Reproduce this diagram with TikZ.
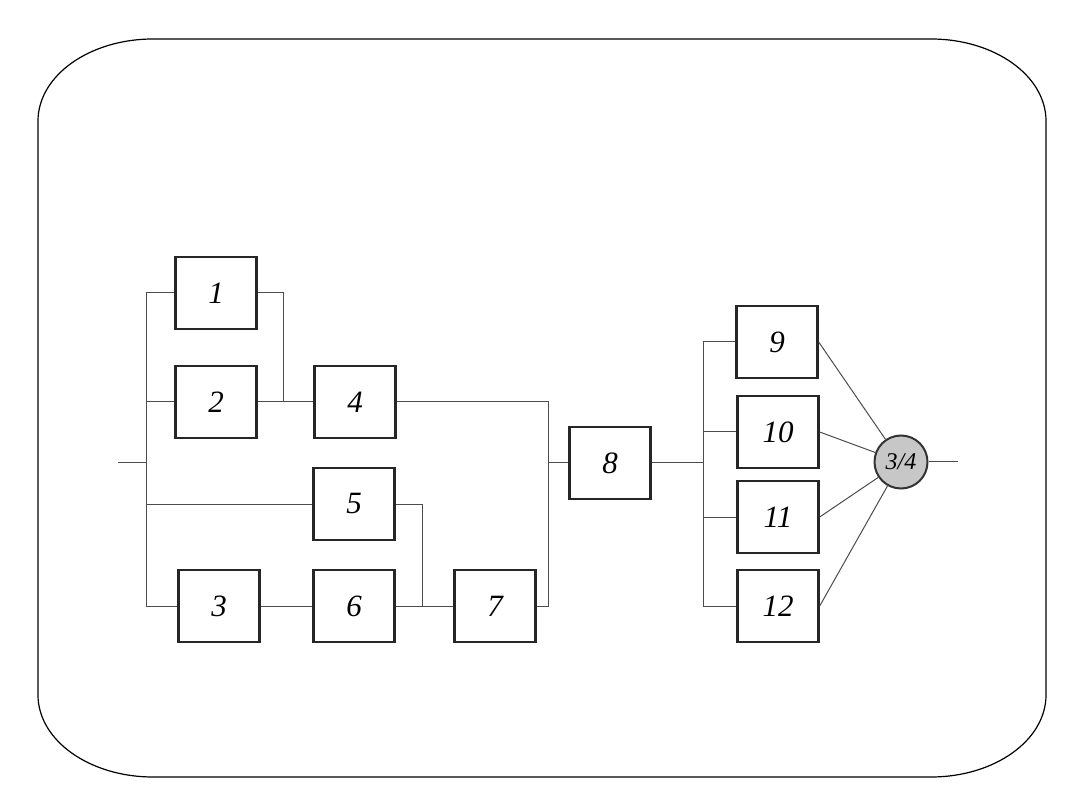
\documentclass[tikz,border=0pt]{standalone}
\usepackage{fontspec}
\setmainfont{Liberation Serif}
\begin{document}
\begin{tikzpicture}[x=1pt,y=-1pt,
  blk/.style={draw=black!85, line width=2.4pt, minimum width=81pt, minimum height=72pt, inner sep=0pt, font=\fontsize{31}{31}\selectfont\itshape},
  wire/.style={draw=black!70, line width=1pt},
  voter/.style={circle, draw=black!80, line width=2pt, fill=black!22, minimum size=53pt, inner sep=0pt, font=\fontsize{24}{24}\selectfont\itshape},
  frame/.style={draw=black, line width=1.2pt}]
\useasboundingbox (0,0) rectangle (1080,810);
% frame
\draw[frame] (153,39) -- (931,39) .. controls (994.5,39) and (1046,75.7) .. (1046,121)
  -- (1046,695) .. controls (1046,740.3) and (994.5,777) .. (931,777)
  -- (153,777) .. controls (89.5,777) and (38,740.3) .. (38,695)
  -- (38,121) .. controls (38,75.7) and (89.5,39) .. (153,39) -- cycle;
% blocks
\node[blk] (b1) at (216,293) {1};
\node[blk] (b2) at (216,402) {2};
\node[blk] (b4) at (355,402) {4};
\node[blk] (b5) at (354,504) {5};
\node[blk] (b3) at (219,606) {3};
\node[blk] (b6) at (354,606) {6};
\node[blk] (b7) at (495,606) {7};
\node[blk] (b8) at (610,463) {8};
\node[blk] (b9) at (777,342) {9};
\node[blk] (b10) at (778,432) {10};
\node[blk] (b11) at (778,517) {11};
\node[blk] (b12) at (778,606) {12};
\node[voter] (c) at (901,462) {3/4};
% helper coordinates
\coordinate (in) at (118,463);
\coordinate (out) at (958,462);
\coordinate (LB) at (146,0);
\coordinate (J1) at (283,0);
\coordinate (J2) at (422,0);
\coordinate (RB) at (548,0);
\coordinate (B2) at (703,0);
% wires left part
\draw[wire] (in) -- (in -| LB);
\draw[wire] (b1.west) -- (b1.west -| LB) -- (b3.west -| LB) -- (b3.west);
\draw[wire] (b2.west) -- (b2.west -| LB);
\draw[wire] (b5.west) -- (b5.west -| LB);
\draw[wire] (b1.east) -- (b1.east -| J1) -- (b2.east -| J1);
\draw[wire] (b2.east) -- (b4.west);
\draw[wire] (b5.east) -- (b5.east -| J2) -- (b6.east -| J2);
\draw[wire] (b3.east) -- (b6.west);
\draw[wire] (b6.east) -- (b7.west);
\draw[wire] (b4.east) -- (b4.east -| RB) -- (b7.east -| RB) -- (b7.east);
\draw[wire] (b8.west -| RB) -- (b8.west);
% wires right part
\draw[wire] (b8.east) -- (b8.east -| B2);
\draw[wire] (b9.west) -- (b9.west -| B2) -- (b12.west -| B2) -- (b12.west);
\draw[wire] (b10.west) -- (b10.west -| B2);
\draw[wire] (b11.west) -- (b11.west -| B2);
\draw[wire] (b9.east) -- (c);
\draw[wire] (b10.east) -- (c);
\draw[wire] (b11.east) -- (c);
\draw[wire] (b12.east) -- (c);
\draw[wire] (c) -- (out);
\end{tikzpicture}
\end{document}
